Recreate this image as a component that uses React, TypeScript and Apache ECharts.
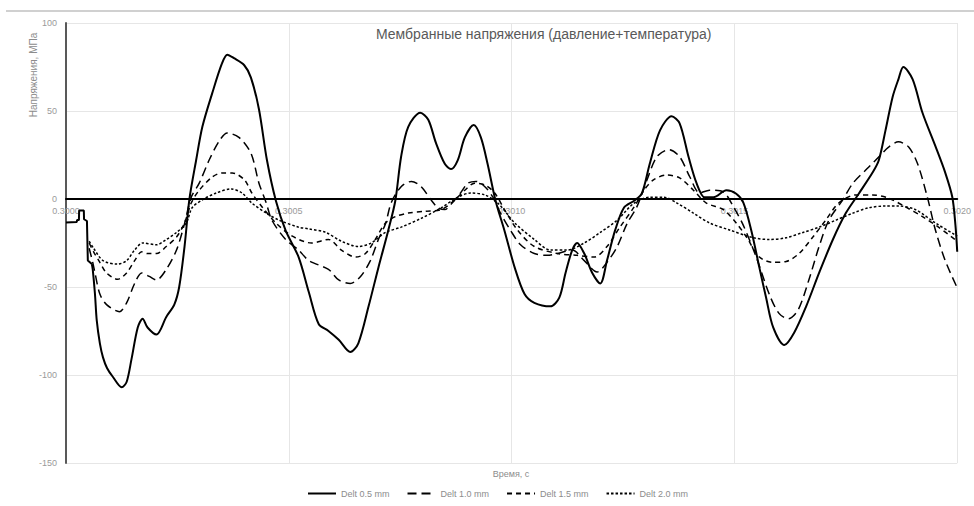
import React, { useEffect, useRef } from "react";
import * as echarts from "echarts";

// Time is stored in microseconds after 0.3000 s; values in MPa.
const seriesNames = ["Delt 0.5 mm", "Delt 1.0 mm", "Delt 1.5 mm", "Delt 2.0 mm"];
const xTickLabels = ["0.3000", "0.3005", "0.3010", "0.3015", "0.3020"];
const yTickValues = [-150, -100, -50, 0, 50, 100];

const stepStart = [
  [0, -13.4], [24, -13], [25, -12], [29, -12], [29.5, -6.6], [40, -6.6], [40.5, -11.5],
  [47, -12.5], [49, -35], [58, -37],
];

const delt05 = [
  [58, -37], [60, -40], [65, -54], [69, -69], [76, -82], [83, -90], [92, -96], [105, -101],
  [125, -107], [136, -104], [147, -91], [161, -73], [172, -68], [183, -73], [203, -77],
  [225, -67], [243, -60], [254, -50], [266, -27], [277, 0], [292, 22], [306, 41], [328, 60],
  [350, 77], [362, 82], [377, 80], [400, 76], [415, 69], [433, 51], [451, 22], [471, -1],
  [493, -18], [522, -33], [545, -53], [567, -71], [589, -75], [612, -80], [638, -87],
  [656, -82], [679, -61], [701, -39], [723, -18], [739, -1], [752, 24], [768, 41], [795, 49],
  [813, 45], [830, 32], [850, 20], [864, 17], [879, 22], [895, 35], [915, 42], [931, 35],
  [946, 20], [964, -1], [984, -18], [1007, -39], [1029, -54], [1051, -59], [1087, -61],
  [1107, -56], [1121, -42], [1136, -29], [1147, -25], [1163, -31], [1181, -42], [1199, -48],
  [1214, -35], [1232, -18], [1252, -5], [1275, -1], [1292, 3], [1310, 20], [1333, 39],
  [1359, 47], [1377, 43], [1397, 24], [1415, 9], [1433, 1], [1453, 1], [1482, 5], [1504, 3],
  [1520, -2], [1538, -18], [1556, -39], [1571, -56], [1587, -73], [1612, -83], [1634, -76],
  [1661, -61], [1690, -42], [1721, -23], [1750, -8], [1779, 3], [1810, 15], [1824, 22],
  [1839, 39], [1855, 58], [1868, 68], [1879, 75], [1900, 68], [1922, 49], [1951, 30],
  [1973, 15], [1989, 1], [1996, -15], [2000, -30],
];

const delt10 = [
  [52, -28], [60, -36], [65, -42], [76, -54], [91, -60], [120, -64], [136, -59], [154, -48],
  [170, -42], [187, -44], [203, -46], [225, -40], [248, -29], [266, -14], [281, 1], [299, 9],
  [321, 22], [344, 33], [362, 37.5], [388, 35], [415, 26], [433, 9], [449, -2], [462, -12],
  [493, -23], [522, -29], [545, -35], [589, -40], [612, -46], [638, -48], [661, -44],
  [683, -35], [701, -23], [717, -14], [730, -2], [752, 7], [775, 10], [797, 7], [819, -0.5],
  [835, -5], [850, -6], [864, -3], [884, 3], [902, 9], [920, 10], [940, 7], [958, 1],
  [975, -8], [998, -18], [1020, -26], [1051, -31], [1080, -32], [1103, -31], [1136, -29],
  [1163, -35], [1192, -41.5], [1214, -36], [1237, -27], [1259, -14], [1281, -4.5], [1304, 11],
  [1326, 24], [1353, 28], [1377, 24], [1400, 12.5], [1422, 3.4], [1444, 5], [1475, 4],
  [1498, -4.5], [1520, -15], [1549, -33], [1578, -54], [1600, -65], [1621, -68], [1643, -63],
  [1667, -46], [1690, -27], [1712, -12], [1743, -0.5], [1766, 9], [1801, 18], [1828, 25],
  [1846, 29.5], [1868, 32.5], [1891, 29.5], [1911, 20], [1933, 1], [1951, -17.6],
  [1973, -35], [2000, -50.5],
];

const delt15 = [
  [52, -25], [62, -30], [76, -36], [91, -42], [116, -45.6], [136, -42], [154, -35], [170, -30],
  [183, -31], [203, -31], [225, -27], [248, -21.6], [266, -13.6], [281, -2.3], [299, 5],
  [328, 12.5], [350, 14.8], [373, 14.8], [400, 11], [417, 3.4], [440, -4.5], [471, -13.6],
  [507, -21], [551, -25], [589, -23], [618, -29], [650, -33], [672, -31], [694, -23],
  [717, -13.6], [739, -10], [768, -8], [806, -7], [842, -6], [873, -0.5], [895, 5], [917, 9],
  [940, 8], [962, 3.4], [984, -6], [1013, -17.6], [1051, -27], [1103, -31], [1147, -32],
  [1185, -33], [1214, -27], [1243, -16], [1275, -4.5], [1297, 5], [1319, 11], [1348, 13.6],
  [1377, 12], [1408, 5], [1437, -2.3], [1475, -6], [1504, -13.6], [1527, -21.6], [1556, -33],
  [1587, -36], [1616, -35.5], [1645, -31], [1676, -21.6], [1705, -12], [1734, -2.3],
  [1772, 2.3], [1810, 2.3], [1846, 0.5], [1884, -4.5], [1922, -10], [1958, -16], [2000, -24],
];

const delt20 = [
  [52, -24], [62, -28], [83, -35], [116, -37], [136, -35], [154, -29], [172, -25], [203, -26],
  [225, -23], [248, -19], [270, -13.6], [283, -5], [306, -0.5], [337, 3.4], [371, 5.7],
  [395, 3.4], [417, -2.3], [449, -8], [478, -12], [522, -16], [545, -17], [583, -19],
  [618, -24], [656, -27], [685, -25], [717, -19], [752, -16], [797, -11], [842, -5], [879, 1],
  [908, 3.4], [940, 2.3], [969, -2.3], [1007, -13.6], [1051, -23], [1087, -29], [1125, -29],
  [1163, -25], [1199, -19], [1237, -12], [1275, -2.3], [1310, 1], [1342, 1], [1371, -2.3],
  [1408, -8], [1444, -13.6], [1489, -17.6], [1542, -22], [1578, -23], [1616, -22],
  [1654, -19], [1690, -16], [1728, -12], [1766, -8], [1801, -5], [1839, -4], [1868, -4],
  [1906, -6], [1951, -13.6], [1996, -20.5], [2000, -21],
];

const FONT = "Liberation Sans";

export default function App() {
  const ref = useRef<HTMLDivElement>(null);
  useEffect(() => {
    const chart = echarts.init(ref.current!, null, { renderer: "svg" });
    const lineSeries = (name: string, data: number[][], width: number, type: any) => ({
      name,
      type: "line",
      data,
      smooth: 0.3,
      symbol: "none",
      showSymbol: false,
      lineStyle: { color: "#000", width, type },
      itemStyle: { color: "#000" },
      z: 3,
    });
    chart.setOption({
      animation: false,
      backgroundColor: "#fff",
      textStyle: { fontFamily: FONT },
      title: {
        text: "Мембранные напряжения (давление+температура)",
        left: 376,
        top: 27,
        padding: 0,
        textStyle: { fontSize: 14, fontWeight: "normal", color: "#595959", fontFamily: FONT },
      },
      grid: { left: 66, right: 12, top: 23, bottom: 43, containLabel: false },
      legend: {
        data: seriesNames,
        left: 307,
        top: 489,
        padding: 0,
        itemWidth: 28,
        itemHeight: 10,
        itemGap: 17,
        itemStyle: { color: "rgba(0,0,0,0)", borderColor: "rgba(0,0,0,0)", borderWidth: 0 },
        textStyle: { fontSize: 9, color: "#8c8c8c", fontFamily: FONT },
      },
      xAxis: {
        type: "value",
        min: 0,
        max: 2000,
        interval: 500,
        position: "bottom",
        offset: -264,
        axisLine: { onZero: false, lineStyle: { color: "#000", width: 2 } },
        axisTick: { show: false },
        axisLabel: {
          color: "#9a9a9a",
          fontSize: 9,
          margin: 7,
          showMinLabel: true,
          showMaxLabel: true,
          formatter: (v: number) => xTickLabels[Math.round(v / 500)] ?? "",
        },
        splitLine: { show: true, lineStyle: { color: "#e6e6e6", width: 1 } },
      },
      yAxis: {
        type: "value",
        min: -150,
        max: 100,
        interval: 50,
        axisLine: { show: true, onZero: false, lineStyle: { color: "#595959", width: 2 } },
        axisTick: { show: false },
        axisLabel: {
          color: "#9a9a9a",
          fontSize: 9,
          margin: 9,
          formatter: (v: number) => (yTickValues.includes(v) ? String(v) : ""),
        },
        splitLine: { show: true, lineStyle: { color: "#e6e6e6", width: 1 } },
      },
      graphic: [
        { type: "rect", shape: { x: 6, y: 10, width: 968, height: 2 }, style: { fill: "#d0d0d0" } },
        {
          type: "text",
          x: 33,
          y: 75,
          rotation: Math.PI / 2,
          style: {
            text: "Напряжения, МПа",
            fill: "#8c8c8c",
            font: `10px "${FONT}"`,
            align: "center",
            verticalAlign: "middle",
          },
        },
        {
          type: "text",
          x: 511,
          y: 474,
          style: {
            text: "Время, с",
            fill: "#8c8c8c",
            font: `9px "${FONT}"`,
            align: "center",
            verticalAlign: "middle",
          },
        },
      ],
      series: [
        {
          type: "line",
          data: stepStart,
          smooth: false,
          symbol: "none",
          lineStyle: { color: "#000", width: 2 },
          z: 3,
        },
        lineSeries(seriesNames[0], delt05, 2, "solid"),
        lineSeries(seriesNames[1], delt10, 1.5, [9, 5]),
        lineSeries(seriesNames[2], delt15, 1.5, [5, 4]),
        lineSeries(seriesNames[3], delt20, 1.5, [2.5, 2]),
      ],
    });
    return () => chart.dispose();
  }, []);
  return (
    <div
      ref={ref}
      style={{ position: "fixed", left: 0, top: 0, width: 974, height: 506 }}
    />
  );
}
